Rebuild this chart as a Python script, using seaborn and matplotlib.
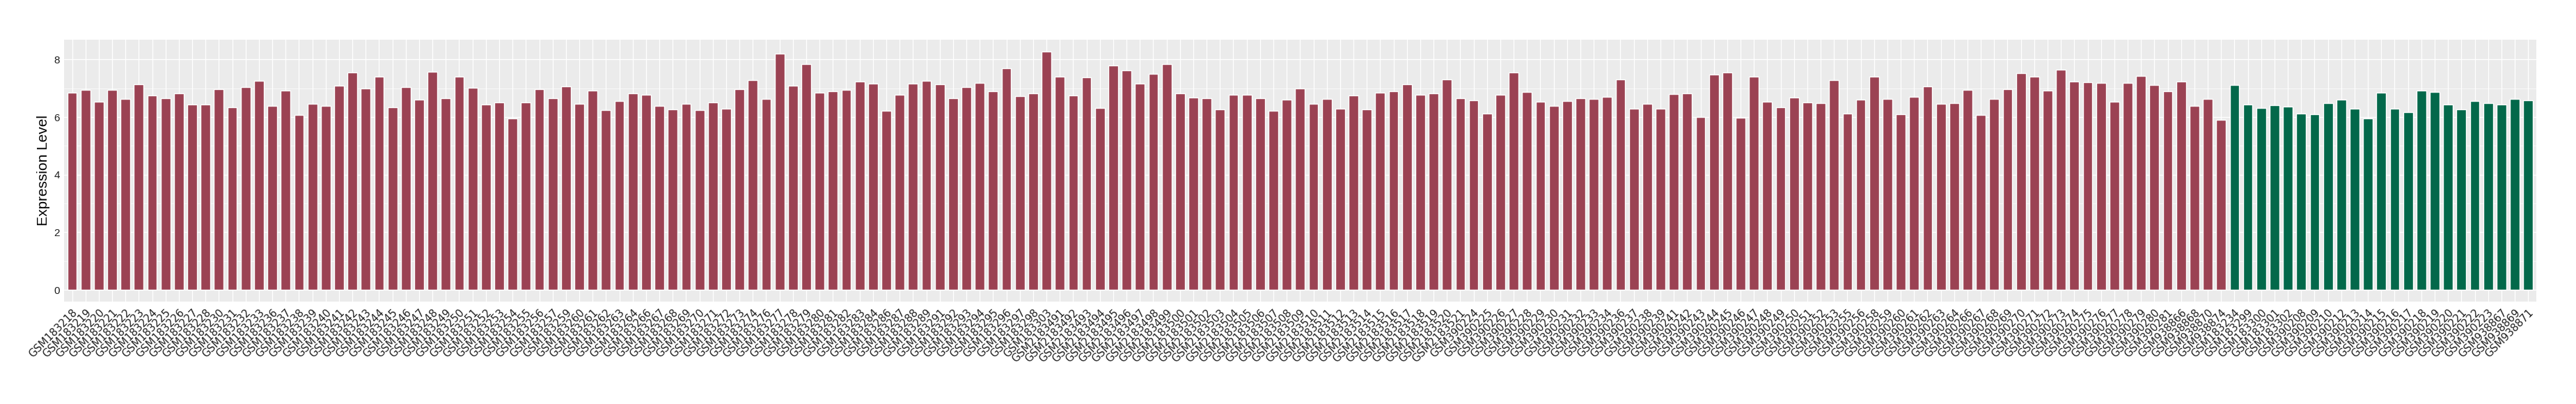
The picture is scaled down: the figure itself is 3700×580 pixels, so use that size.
import matplotlib
matplotlib.use("Agg")
import matplotlib.pyplot as plt
import seaborn as sns
import pandas as pd
from matplotlib.ticker import MultipleLocator

# ---------------- data ----------------
red_samples = (
    ["GSM183%d" % n for n in [218, 219, 220, 221, 222, 223, 224, 225, 226, 227, 228, 230, 231, 232, 233,
                              236, 237, 238, 239, 240, 241, 242, 243, 244, 245, 246, 247, 248, 249, 250,
                              251, 252, 253, 254, 255, 256, 257, 259, 260, 261, 262, 263, 264, 266, 267,
                              268, 269, 270, 271, 272, 273, 274, 276, 277, 278, 279, 280, 281, 282, 283,
                              284, 286, 287, 288, 289, 291, 292, 293, 294, 295, 296, 297, 298, 303]]
    + ["GSM2183%d" % n for n in range(491, 522)]
    + ["GSM390%d" % n for n in [224, 225, 226, 227, 228, 229, 230, 231, 232, 233, 234, 236, 237, 238, 239,
                                241, 242, 243, 244, 245, 246, 247, 248, 249, 250, 251, 252, 253, 255, 256,
                                258, 259, 260, 261, 262, 263, 264, 266, 267, 268, 269, 270, 271, 272, 273,
                                274, 275, 276, 277, 278, 279, 280, 281]]
    + ["GSM938866", "GSM938868", "GSM938870", "GSM938874"]
)

red_values = [
    # GSM183218 - GSM183247
    6.85, 6.94, 6.53, 6.94, 6.63, 7.14, 6.76, 6.66, 6.83, 6.43, 6.43, 6.97, 6.34, 7.04, 7.26,
    6.39, 6.93, 6.08, 6.46, 6.39, 7.09, 7.55, 7.00, 7.41, 6.34, 7.04, 6.60,
    # GSM183248 - GSM183282
    7.58, 6.66, 7.41, 7.02, 6.43, 6.51, 5.95, 6.51, 6.97, 6.66, 7.07, 6.46, 6.93, 6.25, 6.56,
    6.83, 6.77, 6.39, 6.27, 6.46, 6.25, 6.51, 6.29, 6.97, 7.28, 6.63, 8.21, 7.09, 7.84, 6.85,
    6.90, 6.94,
    # GSM183283 - GSM183303
    7.24, 7.17, 6.22, 6.77, 7.17, 7.26, 7.14, 6.66, 7.04, 7.19, 6.90, 7.70, 6.73, 6.83, 8.28,
    # GSM2183491 - GSM2183521
    7.41, 6.76, 7.38, 6.32, 7.79, 7.62, 7.17, 7.50, 7.84, 6.83, 6.68, 6.66, 6.27, 6.77, 6.77,
    6.66, 6.22, 6.60, 7.00, 6.46, 6.63, 6.29, 6.76, 6.27, 6.85, 6.90, 7.14, 6.77, 6.83, 7.31,
    6.66,
    # GSM390224 - GSM390241
    6.59, 6.12, 6.77, 7.55, 6.87, 6.53, 6.39, 6.56, 6.66, 6.63, 6.70, 7.31, 6.29, 6.46, 6.29,
    6.80,
    # GSM390242 - GSM390276
    6.83, 6.00, 7.48, 7.55, 5.98, 7.41, 6.53, 6.34, 6.68, 6.51, 6.49, 7.28, 6.12, 6.60, 7.41,
    6.63, 6.10, 6.70, 7.07, 6.46, 6.49, 6.94, 6.08, 6.63, 6.97, 7.53, 7.41, 6.93, 7.65, 7.24,
    7.21, 7.19,
    # GSM390277 - GSM390281
    6.53, 7.19, 7.43, 7.11, 6.90,
    # GSM938866 - GSM938874
    7.24, 6.39, 6.63, 5.91,
]

green_samples = (
    ["GSM183234", "GSM183299", "GSM183300", "GSM183301", "GSM183302"]
    + ["GSM390%d" % n for n in [208, 209, 210, 212, 213, 214, 215, 216, 217, 218, 219, 220, 221, 222, 223]]
    + ["GSM938867", "GSM938869", "GSM938871"]
)
green_values = [
    7.11, 6.43, 6.32, 6.42, 6.36,
    6.12, 6.10, 6.49, 6.60, 6.29, 5.95, 6.85, 6.29, 6.17, 6.93, 6.87, 6.43, 6.27, 6.56, 6.49,
    6.43, 6.63, 6.59,
]

groups = ["A", "B"]
colors = {"A": "#9B4253", "B": "#03684A"}

df = pd.DataFrame({
    "sample": red_samples + green_samples,
    "value": red_values + green_values,
    "group": [groups[0]] * len(red_samples) + [groups[1]] * len(green_samples),
})

# ---------------- figure ----------------
sns.set_style("white")
plt.rcParams["font.family"] = ["DejaVu Sans"]

W, H, DPI = 3700, 580, 100
fig = plt.figure(figsize=(W / DPI, H / DPI), dpi=DPI)
ax = fig.add_axes([92 / W, 1 - 433.3 / H, (3642.7 - 92) / W, (433.3 - 56.7) / H])

sns.barplot(data=df, x="sample", y="value", hue="group", palette=colors,
            dodge=False, width=0.72, legend=False, ax=ax, saturation=1,
            order=df["sample"].tolist())

n = len(df)
ymax = max(df["value"])
ax.set_xlim(-0.6, n - 1 + 0.6)
ax.set_ylim(-0.05 * ymax, 1.05 * ymax)

ax.set_facecolor("#EBEBEB")
for s in ax.spines.values():
    s.set_visible(False)

ax.yaxis.set_major_locator(MultipleLocator(2))
ax.yaxis.set_minor_locator(MultipleLocator(1))
ax.grid(which="major", axis="both", color="white", linewidth=0.9)
ax.grid(which="minor", axis="y", color="white", linewidth=0.45)
ax.set_axisbelow(True)

ax.tick_params(axis="both", which="major", length=2.5, width=0.7, color="#333333",
               labelcolor="#1e1e1e")
ax.tick_params(axis="y", which="minor", length=0)
ax.tick_params(axis="y", pad=2)
ax.tick_params(axis="x", pad=3)

for lab in ax.get_yticklabels():
    lab.set_fontfamily("Liberation Sans")
    lab.set_fontsize(11)

ax.set_xticks(range(n))
ax.set_xticklabels(df["sample"].tolist(), rotation=45, ha="right", va="top",
                   rotation_mode="anchor", fontsize=10.8, family="DejaVu Sans")

ax.set_xlabel("")
ax.set_ylabel("Expression Level", family="Liberation Sans", fontsize=15, color="black",
              labelpad=3.8)

fig.savefig("out.png", dpi=DPI)
